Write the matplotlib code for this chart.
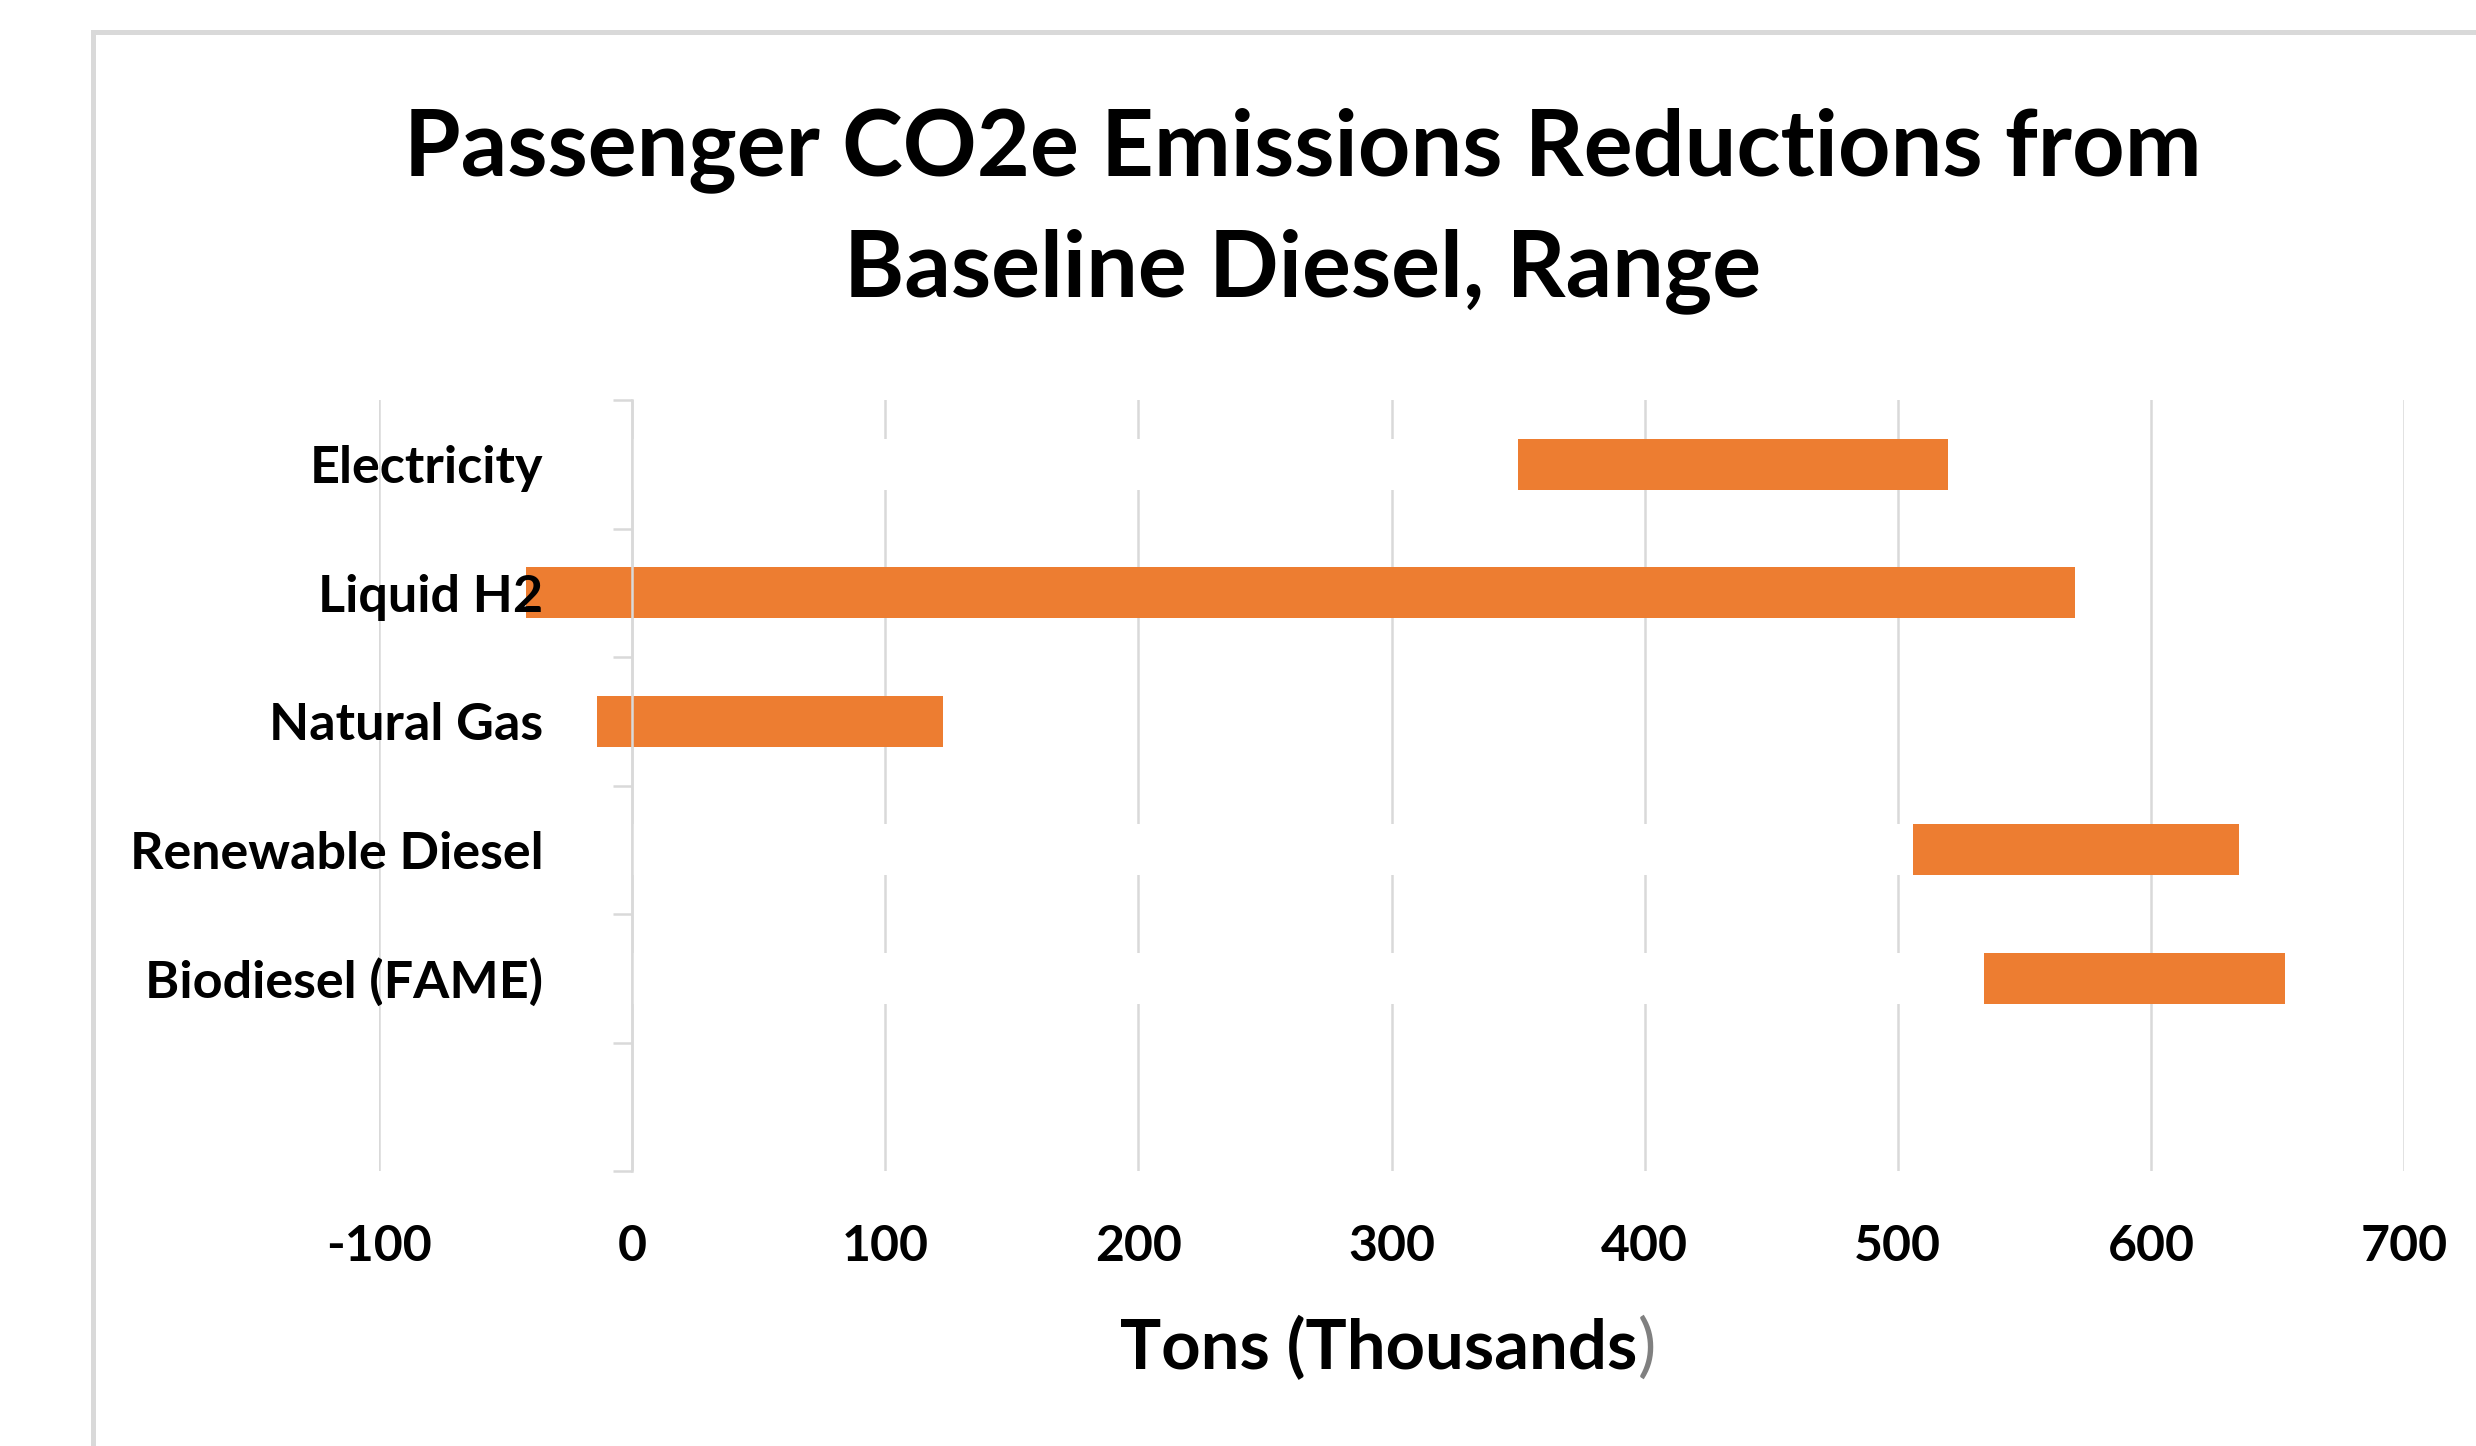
import numpy as np
import matplotlib
matplotlib.use("Agg")
import matplotlib.pyplot as plt
from matplotlib.patches import Rectangle

# data (thousand tons)
categories = ["Electricity", "Liquid H2", "Natural Gas", "Renewable Diesel", "Biodiesel (FAME)"]
range_low = [350, -42, -14, 506, 534]
range_high = [520, 570, 123, 635, 653]
x_ticks = [-100, 0, 100, 200, 300, 400, 500, 600, 700]

title_lines = ["Passenger CO2e Emissions Reductions from", "Baseline Diesel, Range"]
x_label = "Tons (Thousands"

ORANGE = "#ED7D31"
GRID = "#D9D9D9"

plt.rcParams["font.family"] = ["Lato", "DejaVu Sans"]
plt.rcParams["font.weight"] = "bold"

W, H = 2476, 1446
fig = plt.figure(figsize=(W / 100, H / 100), dpi=100)

# chart frame (cut off at right and bottom in the source image)
fig.patches.append(Rectangle((93 / W, -0.1), 1.2, 1 - 32 / H + 0.1, transform=fig.transFigure,
                             fill=False, edgecolor=GRID, lw=3.6, clip_on=False))

ax = fig.add_axes([379 / W, 1 - 1171 / H, (2404 - 379) / W, (1171 - 400) / H])

rows = np.arange(len(categories))
low = np.array(range_low)
high = np.array(range_high)

# white base bars hide the gridlines like the Excel original
ax.barh(rows, low, height=0.4, color="white", zorder=1)
ax.barh(rows, high - low, left=low, height=0.4, color=ORANGE, zorder=1.1)

ax.set_xlim(-100, 700)
ax.set_ylim(len(categories) + 0.5, -0.5)

ax.set_axisbelow(True)
ax.grid(axis="x", color=GRID, lw=1.8)
ax.grid(axis="y", visible=False)
ax.yaxis.set_zorder(3)  # category labels sit on top of the bars

for s in ["top", "right", "bottom"]:
    ax.spines[s].set_visible(False)
ax.spines["left"].set_position(("data", 0))
ax.spines["left"].set_color(GRID)
ax.spines["left"].set_linewidth(1.8)
ax.spines["left"].set_zorder(2.5)

ax.set_xticks(x_ticks)
ax.set_xticklabels([str(v) for v in x_ticks])
ax.tick_params(axis="x", length=0, pad=38, labelsize=36)

ax.set_yticks(rows)
ax.set_yticklabels(categories)
ax.set_yticks(np.arange(-0.5, len(categories) + 1, 1), minor=True)
ax.tick_params(axis="y", which="major", length=0, pad=64, labelsize=37.5)
ax.tick_params(axis="y", which="minor", length=13.7, width=1.8, color=GRID, direction="out")

for line, base in zip(title_lines, [175, 296]):
    fig.text(1303 / W, 1 - base / H, line, ha="center", va="baseline", fontsize=66, weight="bold")

xl = ax.set_xlabel(x_label, fontsize=49.5, weight="bold", va="baseline")
ax.xaxis.set_label_coords(0.4938, -(1369 - 1171) / (1171 - 400))
ax.annotate(")", xy=(1, 0), xycoords=xl, va="bottom", ha="left",
            fontsize=49.5, weight="normal", color="#808080")

fig.savefig("out.png", dpi=100, facecolor="white")
